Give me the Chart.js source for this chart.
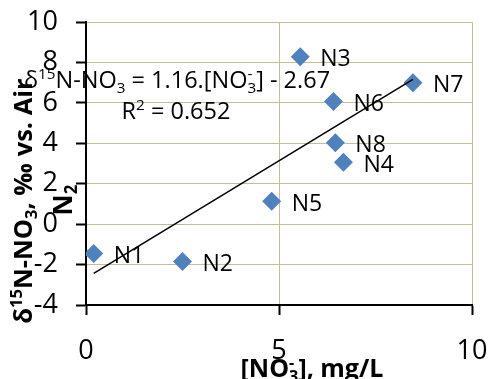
<!DOCTYPE html>
<html><head><meta charset="utf-8">
<script src="https://cdn.jsdelivr.net/npm/chart.js@4"></script>
<style>html,body{margin:0;padding:0;background:#fff;overflow:hidden}</style>
</head><body>
<canvas id="c" width="491" height="379"></canvas>
<script>
const pointNames = ['N1','N2','N3','N4','N5','N6','N7','N8'];
const nitrate = [0.2, 2.5, 5.55, 6.67, 4.81, 6.41, 8.47, 6.46];
const delta15N = [-1.45, -1.85, 8.28, 3.06, 1.13, 6.07, 6.99, 4.03];
const trendX = [0.2, 8.47];
const trendY = [-2.44, 7.16];
const xTicks = [0, 5, 10];
const yTicks = [-4, -2, 0, 2, 4, 6, 8, 10];

const eqLine1 = [['δ',''],['15','sup'],['N-NO',''],['3','sub'],[' = 1.16.[NO',''],[['3','-'],'subsup'],['] - 2.67','']];
const eqLine2 = [['R',''],['2','sup'],[' = 0.652','']];
const yTitle1 = [['δ',''],['15','sup'],['N-NO',''],['3','sub'],[', ‰ vs. Air','']];
const yTitle2 = [['N',''],['2','sub']];
const xTitle = [['[NO',''],[['3','-'],'subsup'],['], mg/L','']];

const FAM = '"Open Sans", "Liberation Sans", sans-serif';
function fontStr(w, s){ return w + ' ' + s + 'px ' + FAM; }
function measureSeg(ctx, seg, size, weight){
  const txt = seg[0], kind = seg[1];
  if (!kind){ ctx.font = fontStr(weight, size); return ctx.measureText(txt).width; }
  ctx.font = fontStr(weight, size*0.65);
  if (kind === 'subsup') return Math.max(ctx.measureText(txt[0]).width, ctx.measureText(txt[1]).width);
  return ctx.measureText(txt).width;
}
function drawRich(ctx, segs, cx, by, size, weight){
  const widths = segs.map(s => measureSeg(ctx, s, size, weight));
  const total = widths.reduce((a,b)=>a+b, 0);
  let x = cx - total/2;
  ctx.textAlign = 'left'; ctx.textBaseline = 'alphabetic'; ctx.fillStyle = '#000';
  segs.forEach((s,i) => {
    const txt = s[0], kind = s[1];
    if (!kind){ ctx.font = fontStr(weight, size); ctx.fillText(txt, x, by); }
    else {
      ctx.font = fontStr(weight, size*0.65);
      if (kind === 'sup') ctx.fillText(txt, x, by - size*0.38);
      else if (kind === 'sub') ctx.fillText(txt, x, by + size*0.2);
      else { ctx.fillText(txt[0], x, by + size*0.2); ctx.fillText(txt[1], x, by - size*0.38); }
    }
    x += widths[i];
  });
}

const annotPlugin = {
  id: 'annot',
  afterDatasetsDraw(chart){
    const ctx = chart.ctx;
    const meta = chart.getDatasetMeta(1);
    ctx.save();
    ctx.fillStyle = '#000';
    ctx.font = fontStr('normal', 23);
    ctx.textAlign = 'left'; ctx.textBaseline = 'middle';
    meta.data.forEach((el, i) => { ctx.fillText(pointNames[i], el.x + 20, el.y + 3); });
    ctx.restore();
  },
  afterDraw(chart){
    const ctx = chart.ctx;
    ctx.save();
    drawRich(ctx, eqLine1, 177, 88, 23.5, 'normal');
    drawRich(ctx, eqLine2, 176, 119, 23.5, 'normal');
    drawRich(ctx, xTitle, 312, 377, 25, 'bold');
    ctx.save(); ctx.translate(32, 201); ctx.rotate(-Math.PI/2);
    drawRich(ctx, yTitle1, 0, 0, 25.5, 'bold'); ctx.restore();
    ctx.save(); ctx.translate(72, 200); ctx.rotate(-Math.PI/2);
    drawRich(ctx, yTitle2, 0, 0, 26, 'bold'); ctx.restore();
    ctx.restore();
  }
};

function zeroPad(s){ s.paddingLeft = 0; s.paddingRight = 0; s.paddingTop = 0; s.paddingBottom = 0; }
const gridCol = '#C4BD97';
new Chart(document.getElementById('c').getContext('2d'), {
  type: 'scatter',
  data: { datasets: [
    { type: 'line', data: trendX.map((x,i)=>({x, y: trendY[i]})), borderColor: '#000', borderWidth: 1.5,
      pointRadius: 0, showLine: true, fill: false, tension: 0 },
    { data: nitrate.map((x,i)=>({x, y: delta15N[i]})), pointStyle: 'rectRot', pointRadius: 9.5, pointHoverRadius: 9.5,
      backgroundColor: '#4F81BD', borderColor: '#4F81BD', borderWidth: 0 }
  ]},
  options: {
    responsive: false, animation: false, devicePixelRatio: 1,
    layout: { padding: { left: 0, right: 19, top: 22, bottom: 0 } },
    plugins: { legend: { display: false }, tooltip: { enabled: false } },
    scales: {
      x: { type: 'linear', min: 0, max: 10,
        afterBuildTicks: s => { s.ticks = xTicks.map(v => ({ value: v })); },
        afterFit: s => { s.height = 74; zeroPad(s); },
        grid: { color: gridCol, lineWidth: 1, tickLength: 10, tickColor: '#000', tickWidth: 2 },
        border: { color: '#000', width: 2 },
        ticks: { font: { family: FAM, size: 27 }, color: '#000', padding: 20, maxRotation: 0, autoSkip: false } },
      y: { type: 'linear', min: -4, max: 10,
        afterBuildTicks: s => { s.ticks = yTicks.map(v => ({ value: v })); },
        afterFit: s => { s.width = 86; zeroPad(s); },
        grid: { color: gridCol, lineWidth: 1, tickLength: 10, tickColor: '#000', tickWidth: 2 },
        border: { color: '#000', width: 2 },
        ticks: { font: { family: FAM, size: 27 }, color: '#000', padding: 18, autoSkip: false } }
    }
  },
  plugins: [annotPlugin]
});
</script>
</body></html>
